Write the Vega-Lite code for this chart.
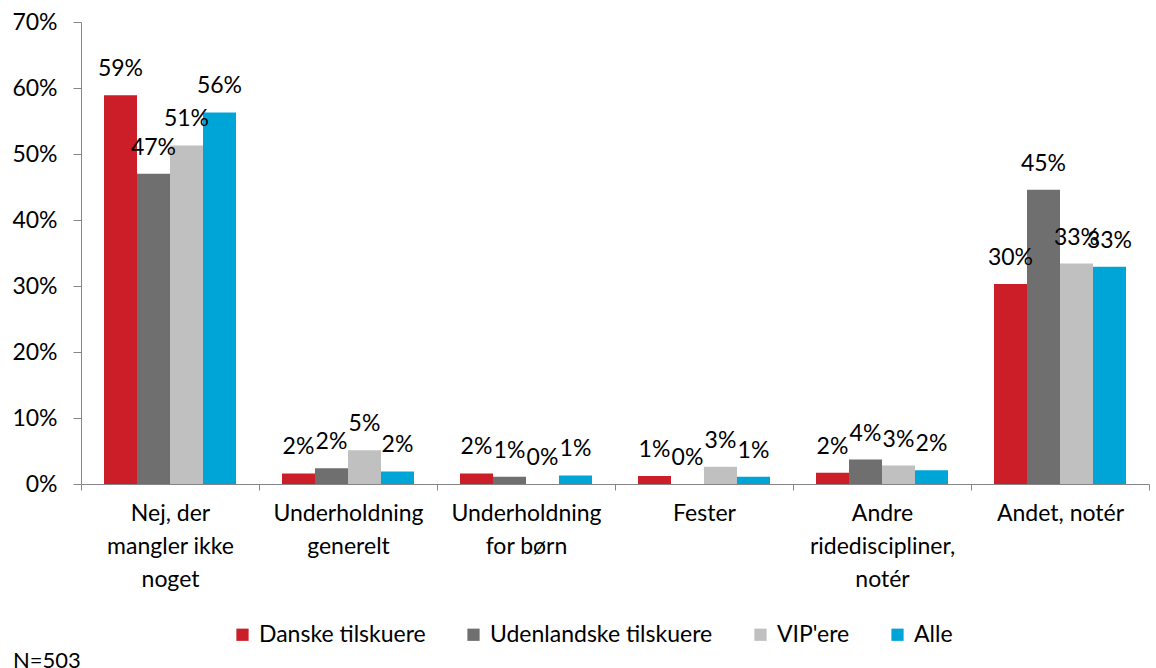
{
  "$schema": "https://vega.github.io/schema/vega-lite/v6.json",
  "width": 1068,
  "height": 462,
  "autosize": "none",
  "padding": {"left": 81, "top": 22, "right": 7, "bottom": 184},
  "background": "white",
  "config": {
    "view": {"stroke": null},
    "font": "Lato",
    "axis": {"labelFont": "Lato", "labelColor": "#000000", "labelFontSize": 23, "domainColor": "#868686", "tickColor": "#868686", "grid": false, "title": null}
  },
  "title": {"text": "N=503", "orient": "bottom", "anchor": "start", "frame": "group", "font": "Lato", "fontSize": 22, "fontWeight": "normal", "color": "#000000", "dx": -68, "offset": 4},
  "data": {"values": [
    {"cat": "Nej, der|mangler ikke|noget", "serie": "Danske tilskuere", "v": 0.589},
    {"cat": "Nej, der|mangler ikke|noget", "serie": "Udenlandske tilskuere", "v": 0.47},
    {"cat": "Nej, der|mangler ikke|noget", "serie": "VIP'ere", "v": 0.513},
    {"cat": "Nej, der|mangler ikke|noget", "serie": "Alle", "v": 0.563},
    {"cat": "Underholdning|generelt", "serie": "Danske tilskuere", "v": 0.016},
    {"cat": "Underholdning|generelt", "serie": "Udenlandske tilskuere", "v": 0.024},
    {"cat": "Underholdning|generelt", "serie": "VIP'ere", "v": 0.051},
    {"cat": "Underholdning|generelt", "serie": "Alle", "v": 0.019},
    {"cat": "Underholdning|for børn", "serie": "Danske tilskuere", "v": 0.016},
    {"cat": "Underholdning|for børn", "serie": "Udenlandske tilskuere", "v": 0.011},
    {"cat": "Underholdning|for børn", "serie": "VIP'ere", "v": 0},
    {"cat": "Underholdning|for børn", "serie": "Alle", "v": 0.013},
    {"cat": "Fester", "serie": "Danske tilskuere", "v": 0.012},
    {"cat": "Fester", "serie": "Udenlandske tilskuere", "v": 0},
    {"cat": "Fester", "serie": "VIP'ere", "v": 0.026},
    {"cat": "Fester", "serie": "Alle", "v": 0.011},
    {"cat": "Andre|ridediscipliner,|notér", "serie": "Danske tilskuere", "v": 0.017},
    {"cat": "Andre|ridediscipliner,|notér", "serie": "Udenlandske tilskuere", "v": 0.037},
    {"cat": "Andre|ridediscipliner,|notér", "serie": "VIP'ere", "v": 0.028},
    {"cat": "Andre|ridediscipliner,|notér", "serie": "Alle", "v": 0.021},
    {"cat": "Andet, notér", "serie": "Danske tilskuere", "v": 0.303},
    {"cat": "Andet, notér", "serie": "Udenlandske tilskuere", "v": 0.446},
    {"cat": "Andet, notér", "serie": "VIP'ere", "v": 0.334},
    {"cat": "Andet, notér", "serie": "Alle", "v": 0.329}
  ]},
  "encoding": {
    "x": {"field": "cat", "type": "nominal", "sort": null,
      "scale": {"paddingInner": 0, "paddingOuter": 0},
      "axis": {"labelAngle": 0, "labelExpr": "split(datum.label, '|')", "labelLineHeight": 33, "labelPadding": 12, "tickSize": 6, "tickBand": "extent", "labelBaseline": "top", "labelLimit": 0}},
    "xOffset": {"field": "serie", "type": "nominal", "sort": ["Danske tilskuere", "Udenlandske tilskuere", "VIP'ere", "Alle"],
      "scale": {"paddingInner": 0, "paddingOuter": 0.697}},
    "y": {"field": "v", "type": "quantitative",
      "scale": {"domain": [0, 0.7], "nice": false},
      "axis": {"format": ".0%", "values": [0, 0.1, 0.2, 0.3, 0.4, 0.5, 0.6, 0.7], "tickSize": 8, "labelPadding": 16}}
  },
  "layer": [
    {
      "mark": {"type": "bar"},
      "encoding": {
        "color": {"field": "serie", "type": "nominal", "sort": ["Danske tilskuere", "Udenlandske tilskuere", "VIP'ere", "Alle"],
          "scale": {"domain": ["Danske tilskuere", "Udenlandske tilskuere", "VIP'ere", "Alle"], "range": ["#CB1E29", "#6F6F6F", "#C0C0C0", "#00A5D7"]},
          "legend": {"orient": "none", "legendX": 150, "legendY": 601, "direction": "horizontal", "title": null, "symbolType": "square", "symbolSize": 150, "symbolStrokeWidth": 0, "labelFont": "Lato", "labelFontSize": 23, "labelColor": "#000000", "columnPadding": 36, "labelOffset": 5, "labelLimit": 0}}
      }
    },
    {
      "mark": {"type": "text", "baseline": "bottom", "dy": -14, "fontSize": 23, "font": "Lato", "color": "#000000"},
      "encoding": {"text": {"field": "v", "type": "quantitative", "format": ".0%"}}
    }
  ]
}
